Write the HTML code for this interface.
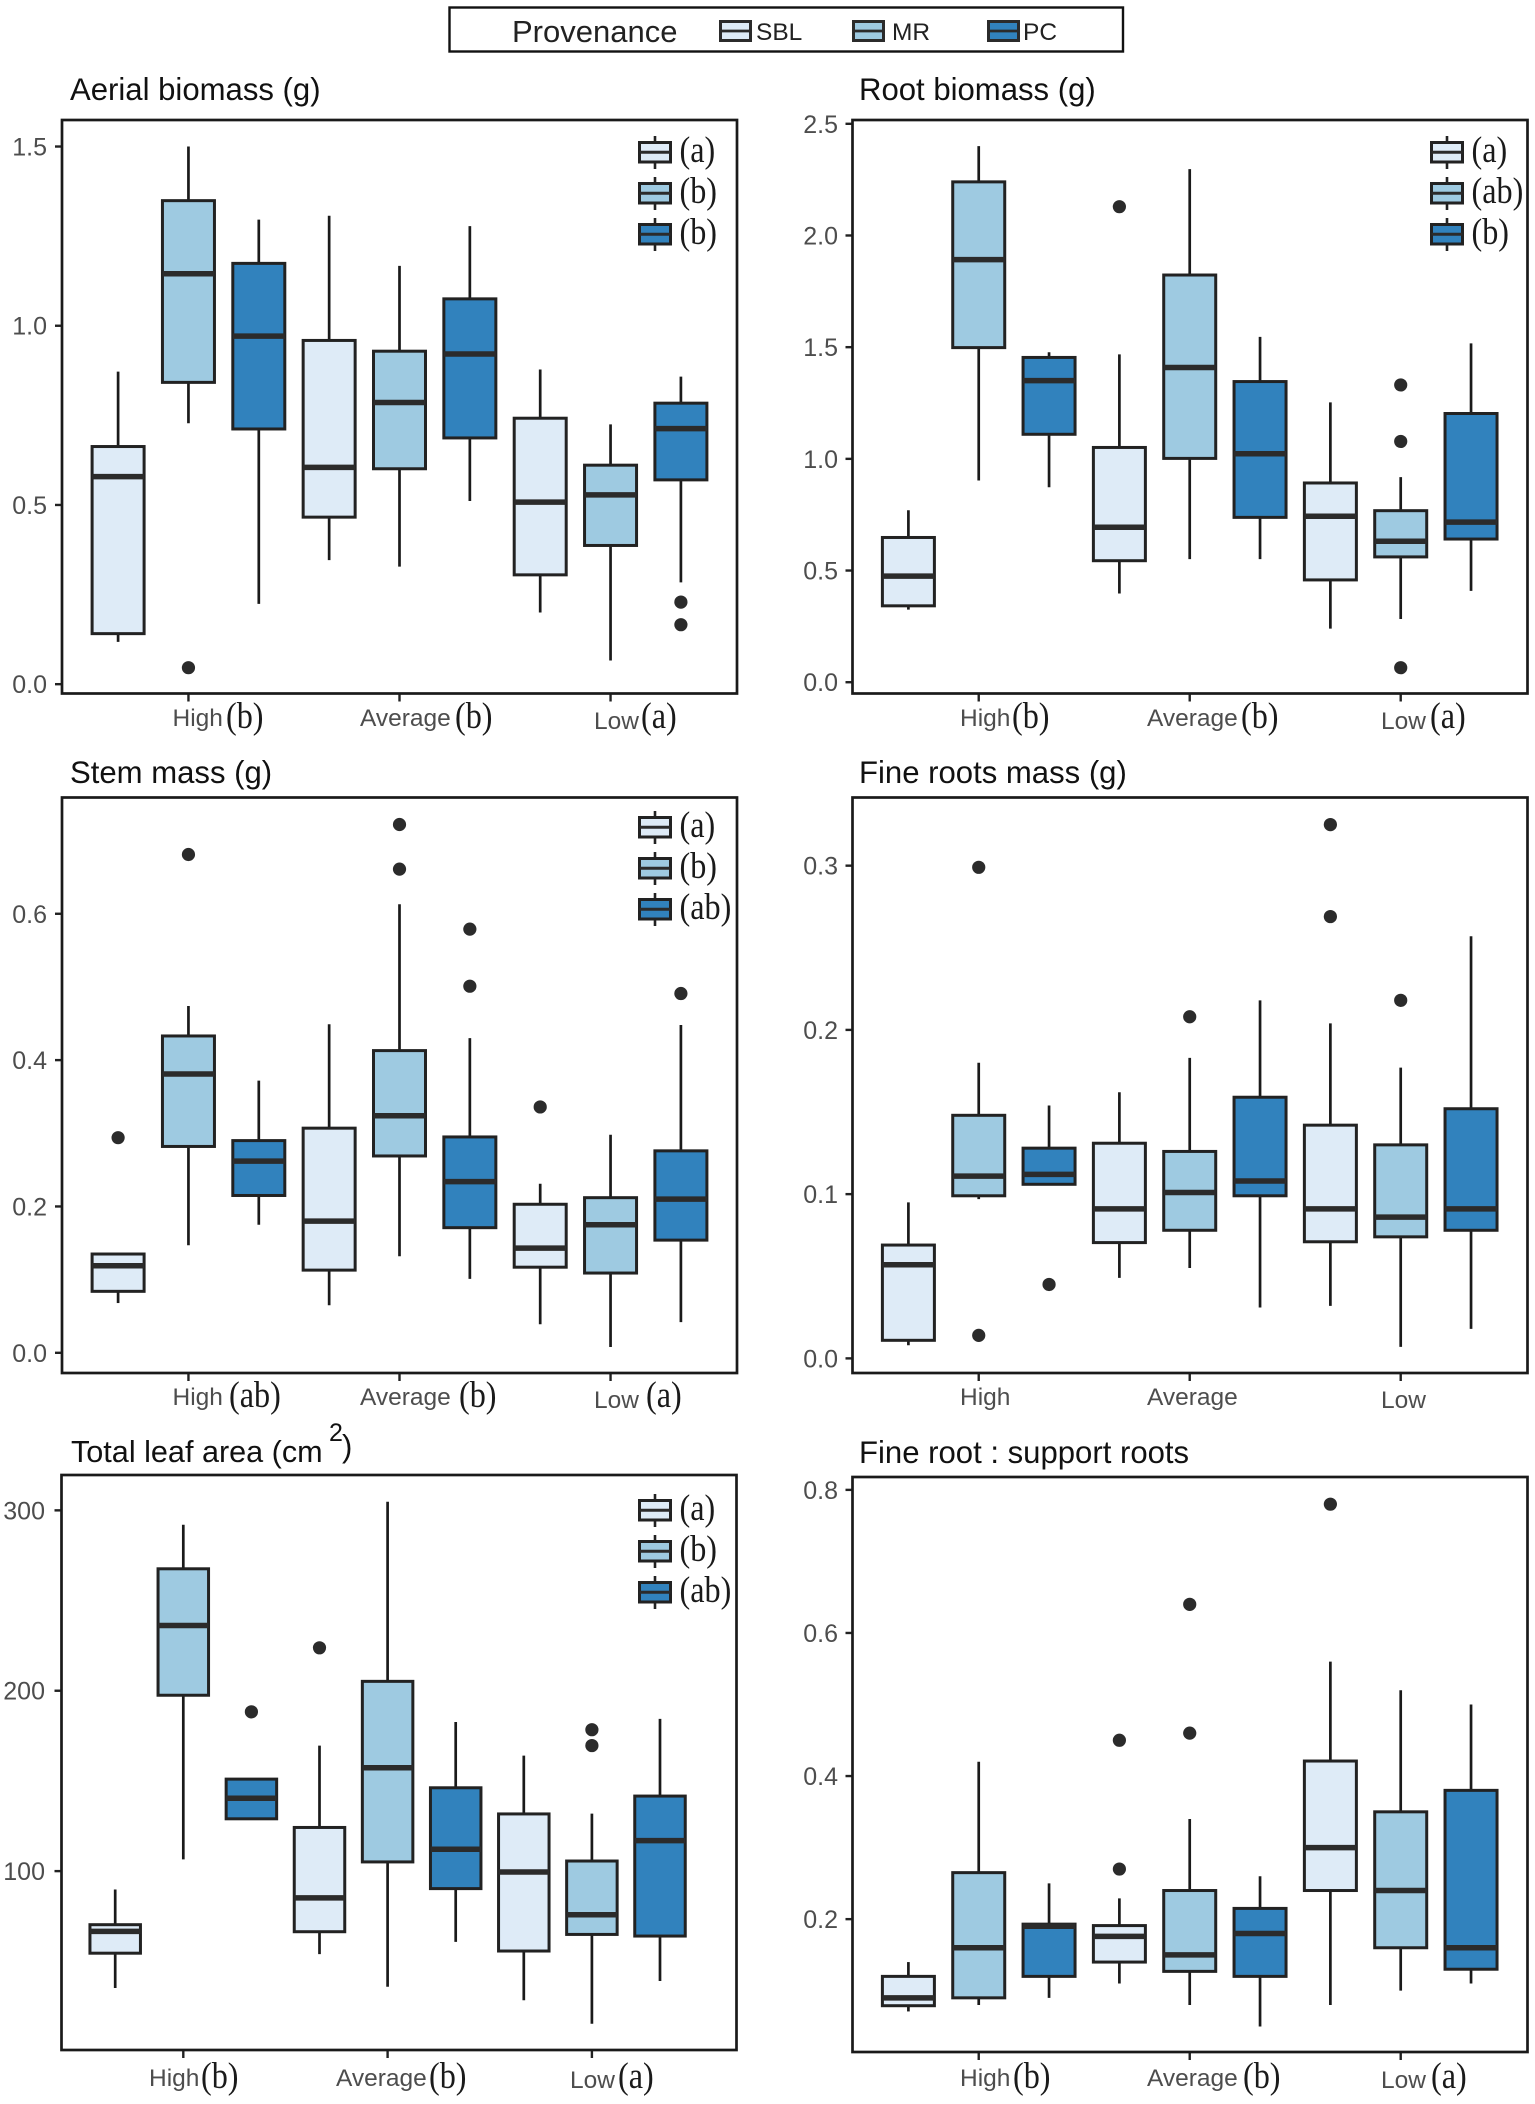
<!DOCTYPE html>
<html lang="en">
<head>
<meta charset="utf-8">
<title>Biomass boxplots by provenance</title>
<style>
html,body{margin:0;padding:0;background:#fff;}
svg{display:block;}
text{font-family:"Liberation Sans",sans-serif;}
.title{font-size:31.1px;fill:#111;}
.xl{font-size:24.5px;fill:#4d4d4d;}
.sig{font-family:"Liberation Serif",serif;font-size:37px;fill:#1a1a1a;transform-box:fill-box;transform-origin:0 100%;transform:scaleX(.87);}
.leg{font-size:24.5px;fill:#222;}
</style>
</head>
<body>
<svg id="figure" xmlns="http://www.w3.org/2000/svg" width="1535" height="2104" viewBox="0 0 1535 2104">
  <rect x="0" y="0" width="1535" height="2104" fill="#fff"/>

  <g>
    <rect x="449.5" y="7.5" width="673.5" height="44" fill="#fff" stroke="#111" stroke-width="2.4"/>
    <text x="512" y="42" style="font-size:31px" fill="#222">Provenance</text>
    <rect x="720.5" y="21.5" width="30" height="19" fill="#deebf7" stroke="#2b2b2b" stroke-width="3"/>
    <line x1="720.5" x2="750.5" y1="31" y2="31" stroke="#2b2b2b" stroke-width="2.8"/>
    <text class="leg" x="756" y="40">SBL</text>
    <rect x="853.5" y="21.5" width="30" height="19" fill="#9ecae1" stroke="#2b2b2b" stroke-width="3"/>
    <line x1="853.5" x2="883.5" y1="31" y2="31" stroke="#2b2b2b" stroke-width="2.8"/>
    <text class="leg" x="892" y="40">MR</text>
    <rect x="988.5" y="21.5" width="30" height="19" fill="#3182bd" stroke="#2b2b2b" stroke-width="3"/>
    <line x1="988.5" x2="1018.5" y1="31" y2="31" stroke="#2b2b2b" stroke-width="2.8"/>
    <text class="leg" x="1023" y="40">PC</text>
  </g>

  <g id="panels"></g>

  <g>
    <text class="title" x="70" y="100">Aerial biomass (g)</text>
    <text class="title" x="859" y="100">Root biomass (g)</text>
    <text class="title" x="70" y="783">Stem mass (g)</text>
    <text class="title" x="859" y="783">Fine roots mass (g)</text>
    <text class="title" x="71" y="1462" style="font-size:30.6px">Total leaf area (cm</text>
    <text x="329" y="1441" style="font-size:25px" fill="#111">2</text>
    <text class="title" x="342" y="1457">)</text>
    <text class="title" x="859" y="1463">Fine root : support roots</text>
  </g>

  <g>
    <text class="xl" x="172.5" y="726">High</text><text class="sig" x="226" y="728">(b)</text>
    <text class="xl" x="360" y="726">Average</text><text class="sig" x="455" y="728">(b)</text>
    <text class="xl" x="594" y="729">Low</text><text class="sig" x="641" y="728">(a)</text>

    <text class="xl" x="960" y="726">High</text><text class="sig" x="1012" y="728">(b)</text>
    <text class="xl" x="1147" y="726">Average</text><text class="sig" x="1241" y="728">(b)</text>
    <text class="xl" x="1381" y="729">Low</text><text class="sig" x="1430" y="728">(a)</text>

    <text class="xl" x="172.5" y="1405">High</text><text class="sig" x="229" y="1407">(ab)</text>
    <text class="xl" x="360" y="1405">Average</text><text class="sig" x="459" y="1407">(b)</text>
    <text class="xl" x="594" y="1408">Low</text><text class="sig" x="646" y="1407">(a)</text>

    <text class="xl" x="960" y="1405">High</text>
    <text class="xl" x="1147" y="1405">Average</text>
    <text class="xl" x="1381" y="1408">Low</text>

    <text class="xl" x="149" y="2086">High</text><text class="sig" x="201" y="2088">(b)</text>
    <text class="xl" x="336" y="2086">Average</text><text class="sig" x="429" y="2088">(b)</text>
    <text class="xl" x="570" y="2088">Low</text><text class="sig" x="618" y="2088">(a)</text>

    <text class="xl" x="960" y="2086">High</text><text class="sig" x="1013" y="2088">(b)</text>
    <text class="xl" x="1147" y="2086">Average</text><text class="sig" x="1243" y="2088">(b)</text>
    <text class="xl" x="1381" y="2088">Low</text><text class="sig" x="1431" y="2088">(a)</text>
  </g>

  <g>
    <text class="sig" x="679.5" y="162">(a)</text>
    <text class="sig" x="679.5" y="203">(b)</text>
    <text class="sig" x="679.5" y="244">(b)</text>

    <text class="sig" x="1471.5" y="162">(a)</text>
    <text class="sig" x="1471.5" y="203">(ab)</text>
    <text class="sig" x="1471.5" y="244">(b)</text>

    <text class="sig" x="679.5" y="837">(a)</text>
    <text class="sig" x="679.5" y="878">(b)</text>
    <text class="sig" x="679.5" y="919">(ab)</text>

    <text class="sig" x="679.5" y="1520">(a)</text>
    <text class="sig" x="679.5" y="1561">(b)</text>
    <text class="sig" x="679.5" y="1602">(ab)</text>
  </g>
</svg>

<script>
// Each row: whisker top, upper quartile, median, lower quartile, whisker bottom.
// Row order: High SBL/MR/PC, Average SBL/MR/PC, Low SBL/MR/PC.
const categories = ['High', 'Average', 'Low'];
const provenances = ['SBL', 'MR', 'PC'];

const aerialBoxes = [
  [0.872, 0.663, 0.579, 0.141, 0.118],
  [1.50, 1.349, 1.145, 0.842, 0.728],
  [1.296, 1.174, 0.971, 0.712, 0.224],
  [1.307, 0.959, 0.605, 0.466, 0.346],
  [1.167, 0.929, 0.786, 0.601, 0.328],
  [1.278, 1.075, 0.921, 0.687, 0.511],
  [0.878, 0.742, 0.508, 0.305, 0.200],
  [0.725, 0.611, 0.528, 0.387, 0.066],
  [0.858, 0.784, 0.713, 0.570, 0.284]
];
const aerialOutliers = [[], [0.046], [], [], [], [], [], [], [0.229, 0.166]];
const aerialTicks = ['0.0', '0.5', '1.0', '1.5'];

const rootBoxes = [
  [0.77, 0.648, 0.475, 0.342, 0.325],
  [2.40, 2.24, 1.892, 1.498, 0.903],
  [1.477, 1.454, 1.35, 1.11, 0.873],
  [1.468, 1.051, 0.694, 0.544, 0.397],
  [2.297, 1.823, 1.409, 1.002, 0.551],
  [1.546, 1.346, 1.023, 0.738, 0.551],
  [1.253, 0.892, 0.743, 0.458, 0.24],
  [0.918, 0.768, 0.631, 0.561, 0.283],
  [1.517, 1.203, 0.717, 0.641, 0.409]
];
const rootOutliers = [[], [], [], [2.129], [], [], [], [1.331, 1.078, 0.065], []];
const rootTicks = ['0.0', '0.5', '1.0', '1.5', '2.0', '2.5'];

const stemBoxes = [
  [0.135, 0.135, 0.119, 0.084, 0.068],
  [0.474, 0.433, 0.381, 0.282, 0.147],
  [0.372, 0.29, 0.262, 0.215, 0.175],
  [0.449, 0.307, 0.18, 0.113, 0.065],
  [0.613, 0.413, 0.324, 0.269, 0.132],
  [0.43, 0.295, 0.234, 0.171, 0.101],
  [0.231, 0.203, 0.143, 0.117, 0.039],
  [0.298, 0.212, 0.175, 0.109, 0.008],
  [0.448, 0.276, 0.21, 0.154, 0.042]
];
const stemOutliers = [[0.294], [0.681], [], [], [0.722, 0.661], [0.579, 0.501], [0.336], [], [0.491]];
const stemTicks = ['0.0', '0.2', '0.4', '0.6'];

const fineBoxes = [
  [0.095, 0.069, 0.057, 0.011, 0.008],
  [0.18, 0.148, 0.111, 0.099, 0.097],
  [0.154, 0.128, 0.112, 0.106, 0.106],
  [0.162, 0.131, 0.091, 0.0705, 0.049],
  [0.183, 0.126, 0.101, 0.078, 0.055],
  [0.218, 0.159, 0.108, 0.099, 0.031],
  [0.204, 0.142, 0.091, 0.071, 0.032],
  [0.177, 0.130, 0.086, 0.074, 0.007],
  [0.257, 0.152, 0.091, 0.078, 0.018]
];
const fineOutliers = [[], [0.299, 0.014], [0.045], [], [0.208], [], [0.325, 0.269], [0.218], []];
const fineTicks = ['0.0', '0.1', '0.2', '0.3'];

const leafBoxes = [
  [89.8, 70.3, 66.6, 54.5, 35.2],
  [292, 267.6, 236.2, 197.5, 106.5],
  [151, 151, 140.4, 129, 129],
  [169.6, 124.2, 85.2, 66.4, 54],
  [304.8, 205.2, 157.3, 105.1, 35.9],
  [182.7, 146.2, 112.1, 90.3, 60.8],
  [164, 131.7, 99.5, 55.7, 28.4],
  [131.9, 105.6, 75.8, 64.9, 15.4],
  [184.4, 141.6, 116.9, 64, 39.1]
];
const leafOutliers = [[], [], [188.3], [223.8], [], [], [], [178.4, 169.6], []];
const leafTicks = ['100', '200', '300'];

const ratioBoxes = [
  [0.14, 0.12, 0.09, 0.079, 0.071],
  [0.42, 0.265, 0.16, 0.09, 0.08],
  [0.25, 0.193, 0.19, 0.12, 0.09],
  [0.229, 0.191, 0.176, 0.14, 0.11],
  [0.34, 0.24, 0.15, 0.127, 0.08],
  [0.26, 0.215, 0.18, 0.12, 0.05],
  [0.56, 0.421, 0.3, 0.24, 0.08],
  [0.52, 0.35, 0.24, 0.16, 0.10],
  [0.5, 0.38, 0.16, 0.13, 0.11]
];
const ratioOutliers = [[], [], [], [0.45, 0.27], [0.64, 0.46], [], [0.78], [], []];
const ratioTicks = ['0.2', '0.4', '0.6', '0.8'];

const fills = ['#deebf7', '#9ecae1', '#3182bd'];
const NS = 'http://www.w3.org/2000/svg';
const root = document.getElementById('panels');

function make(tag, attrs, parent) {
  const n = document.createElementNS(NS, tag);
  for (const k in attrs) n.setAttribute(k, attrs[k]);
  parent.appendChild(n);
  return n;
}

const panels = [
  {id: 'aerial', boxes: aerialBoxes, outliers: aerialOutliers, ticks: aerialTicks, left: 62, right: 737, top: 120, bottom: 693.5, lo: -0.026, hi: 1.574, x0: 118.1, step: 70.35, bw: 52, labelX: 47, legend: {x: 639.5, ys: [152, 193, 234]}},
  {id: 'root', boxes: rootBoxes, outliers: rootOutliers, ticks: rootTicks, left: 852.5, right: 1527.5, top: 120, bottom: 693.5, lo: -0.0505, hi: 2.517, x0: 908.4, step: 70.33, bw: 52, labelX: 838, legend: {x: 1431.5, ys: [152, 193, 234]}},
  {id: 'stem', boxes: stemBoxes, outliers: stemOutliers, ticks: stemTicks, left: 62, right: 737, top: 797.5, bottom: 1373, lo: -0.0276, hi: 0.7589, x0: 118.1, step: 70.35, bw: 52, labelX: 47, legend: {x: 639.5, ys: [827, 868, 909]}},
  {id: 'fine', boxes: fineBoxes, outliers: fineOutliers, ticks: fineTicks, left: 852.5, right: 1527.5, top: 797.5, bottom: 1373, lo: -0.0089, hi: 0.3415, x0: 908.4, step: 70.33, bw: 52, labelX: 838, legend: null},
  {id: 'leaf', boxes: leafBoxes, outliers: leafOutliers, ticks: leafTicks, left: 61.5, right: 736.5, top: 1475, bottom: 2050, lo: 0.83, hi: 319.6, x0: 115.2, step: 68.1, bw: 50.5, labelX: 45, legend: {x: 639.5, ys: [1510, 1551, 1592]}},
  {id: 'ratio', boxes: ratioBoxes, outliers: ratioOutliers, ticks: ratioTicks, left: 852.5, right: 1527.5, top: 1477, bottom: 2052, lo: 0.0143, hi: 0.818, x0: 908.4, step: 70.33, bw: 52, labelX: 838, legend: null}
];

panels.forEach(function (p) {
  const g = make('g', {}, root);
  
  

  const y = function (v) { return p.bottom - (v - p.lo) / (p.hi - p.lo) * (p.bottom - p.top); };
  const x = function (index) { return p.x0 + index * p.step; };

  // y axis ticks and labels
  p.ticks.forEach(function (t) {
    const py = y(parseFloat(t));
    const tick = make('line', {x1: p.left - 7, x2: p.left, y1: py, y2: py, stroke: '#222', 'stroke-width': 2.4}, g);
    
    
    const label = make('text', {x: p.labelX, y: py + 9, 'text-anchor': 'end', 'font-size': 25, fill: '#4d4d4d'}, g);
    
    
    label.textContent = t;
  });

  // x axis ticks
  categories.forEach(function (c, ci) {
    const px = x(ci * 3 + 1);
    const tick = make('line', {x1: px, x2: px, y1: p.bottom, y2: p.bottom + 8, stroke: '#222', 'stroke-width': 2.4}, g);
    
    
  });

  // boxes
  p.boxes.forEach(function (b, i) {
    const cat = categories[Math.floor(i / 3)].toLowerCase();
    const prov = provenances[i % 3].toLowerCase();
    const cx = x(i);
    const whisker = make('line', {x1: cx, x2: cx, y1: y(b[0]), y2: y(b[4]), stroke: '#1a1a1a', 'stroke-width': 2.7}, g);
    
    
    const box = make('rect', {x: cx - p.bw / 2, y: y(b[1]), width: p.bw, height: y(b[3]) - y(b[1]), fill: fills[i % 3], stroke: '#222', 'stroke-width': 3}, g);
    
    
    const median = make('line', {x1: cx - p.bw / 2, x2: cx + p.bw / 2, y1: y(b[2]), y2: y(b[2]), stroke: '#2b2b2b', 'stroke-width': 5.5}, g);
    
    
    p.outliers[i].forEach(function (v) {
      const dot = make('circle', {cx: cx, cy: y(v), r: 6.6, fill: '#2b2b2b'}, g);
      
      
    });
  });

  // inset significance-legend keys
  if (p.legend) {
    p.legend.ys.forEach(function (ky, k) {
      const kx = p.legend.x;
      const prov = provenances[k].toLowerCase();
      const stem = make('line', {x1: kx + 15.5, x2: kx + 15.5, y1: ky - 16, y2: ky + 17, stroke: '#222', 'stroke-width': 2.6}, g);
      
      
      const rect = make('rect', {x: kx, y: ky - 9.5, width: 31, height: 19.5, fill: fills[k], stroke: '#222', 'stroke-width': 3}, g);
      
      
      const mid = make('line', {x1: kx, x2: kx + 31, y1: ky + 0.3, y2: ky + 0.3, stroke: '#2b2b2b', 'stroke-width': 3}, g);
      
      
    });
  }

  // frame
  const frame = make('rect', {x: p.left, y: p.top, width: p.right - p.left, height: p.bottom - p.top, fill: 'none', stroke: '#1a1a1a', 'stroke-width': 2.7}, g);
  
  
});
</script>
</body>
</html>
